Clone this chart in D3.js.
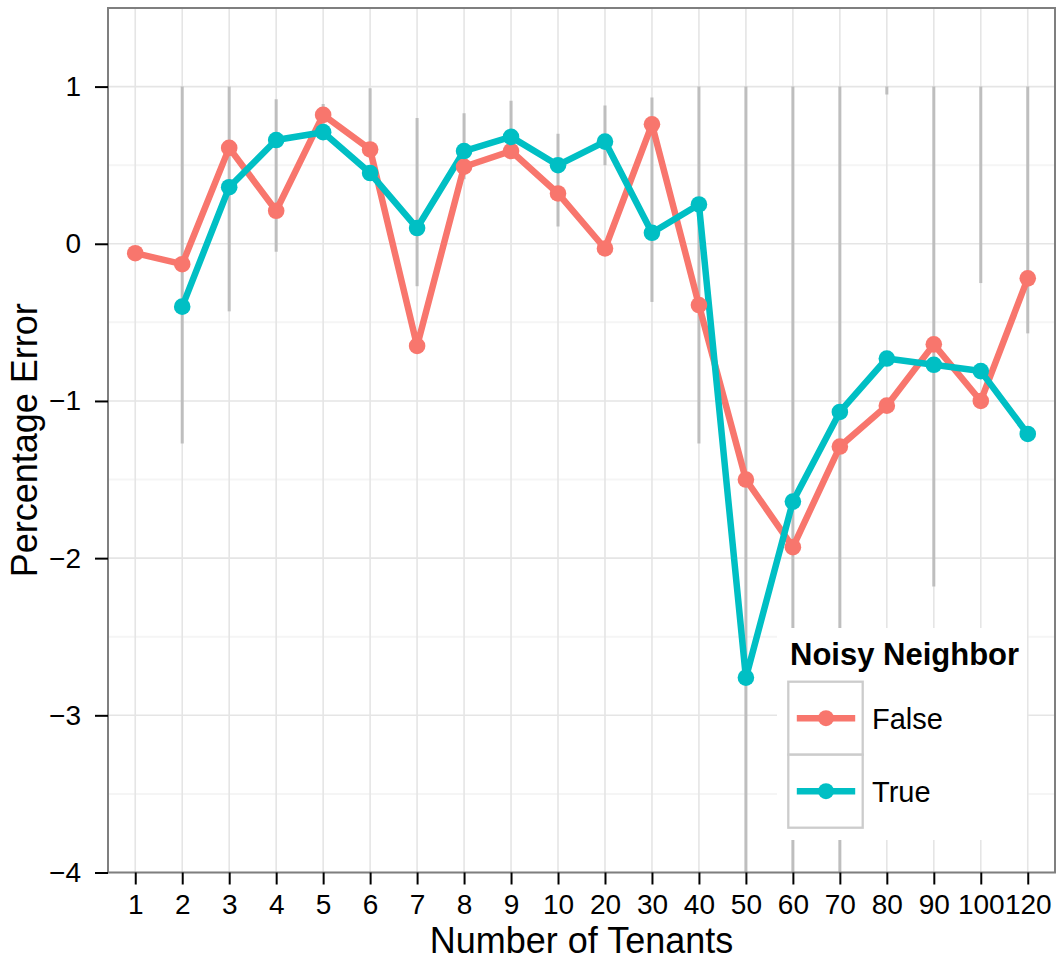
<!DOCTYPE html>
<html>
<head>
<meta charset="utf-8">
<script src="https://cdn.jsdelivr.net/npm/d3@7"></script>
<style>
  html, body { margin: 0; padding: 0; background: #ffffff; }
  svg { display: block; font-family: "Liberation Sans", Arial, Helvetica, sans-serif; }
</style>
</head>
<body>
<svg id="chart" width="1058" height="960"></svg>
<script>
// Tenant counts on the x axis (discrete levels)
const categories = ["1","2","3","4","5","6","7","8","9","10","20","30","40","50","60","70","80","90","100","120"];

// Mean percentage error per tenant count, by noisy-neighbour condition
const falseValues = [-0.06,-0.13,0.61,0.21,0.82,0.60,-0.65,0.49,0.59,0.32,-0.03,0.76,-0.39,-1.50,-1.93,-1.29,-1.03,-0.64,-1.00,-0.22];
const trueValues  = [null,-0.40,0.36,0.66,0.71,0.45,0.10,0.59,0.68,0.50,0.65,0.07,0.25,-2.76,-1.64,-1.07,-0.73,-0.77,-0.81,-1.21];

// Error range (gray vertical bars)
const errLow  = [null,-1.27,-0.43,-0.05,0.74,0.55,-0.27,0.41,0.60,0.11,0.50,-0.37,-1.27,-4.0,-4.0,-4.0,0.95,-2.18,-0.25,-0.57];
const errHigh = [null,1.0,1.0,0.92,0.89,0.99,0.80,0.83,0.91,0.70,0.88,0.93,1.0,1.0,1.0,1.0,1.0,1.0,1.0,1.0];

const yTicks = [-4,-3,-2,-1,0,1];
const yMinorTicks = [-3.5,-2.5,-1.5,-0.5,0.5];
const seriesNames = ["False","True"];
const seriesColors = ["#F8766D","#00BFC4"];
const legendTitle = "Noisy Neighbor";
const xTitle = "Number of Tenants";
const yTitle = "Percentage Error";

const svg = d3.select("#chart");
const panel = { left: 108, right: 1055, top: 8, bottom: 872.5 };

const x = d3.scalePoint()
  .domain(categories)
  .range([panel.left, panel.right])
  .padding(0.58);

const y = d3.scaleLinear()
  .domain([-4, 1.5])
  .range([panel.bottom, panel.top]);

svg.append("defs").append("clipPath").attr("id", "panel-clip")
  .append("rect")
  .attr("x", panel.left).attr("y", panel.top)
  .attr("width", panel.right - panel.left)
  .attr("height", panel.bottom - panel.top);

// Panel background
svg.append("rect")
  .attr("x", panel.left).attr("y", panel.top)
  .attr("width", panel.right - panel.left)
  .attr("height", panel.bottom - panel.top)
  .attr("fill", "#ffffff");

const grid = svg.append("g");
// Minor horizontal grid
grid.selectAll("line.minor").data(yMinorTicks).join("line")
  .attr("class", "minor")
  .attr("x1", panel.left).attr("x2", panel.right)
  .attr("y1", d => y(d)).attr("y2", d => y(d))
  .attr("stroke", "#f5f5f5").attr("stroke-width", 2);
// Major horizontal grid
grid.selectAll("line.hmajor").data(yTicks).join("line")
  .attr("class", "hmajor")
  .attr("x1", panel.left).attr("x2", panel.right)
  .attr("y1", d => y(d)).attr("y2", d => y(d))
  .attr("stroke", "#e5e5e5").attr("stroke-width", 1.6);
// Vertical grid at each category
grid.selectAll("line.vmajor").data(categories).join("line")
  .attr("class", "vmajor")
  .attr("x1", d => x(d)).attr("x2", d => x(d))
  .attr("y1", panel.top).attr("y2", panel.bottom)
  .attr("stroke", "#e5e5e5").attr("stroke-width", 1.6);

const plot = svg.append("g").attr("clip-path", "url(#panel-clip)");

// Error ranges
const errData = categories.map((c, i) => ({ c, lo: errLow[i], hi: errHigh[i] }))
  .filter(d => d.lo !== null && d.hi !== null);
plot.selectAll("line.err").data(errData).join("line")
  .attr("class", "err")
  .attr("x1", d => x(d.c)).attr("x2", d => x(d.c))
  .attr("y1", d => y(d.hi)).attr("y2", d => y(d.lo))
  .attr("stroke", "#bebebe").attr("stroke-width", 3);

const series = [falseValues, trueValues].map((vals, s) => ({
  name: seriesNames[s],
  color: seriesColors[s],
  points: categories.map((c, i) => ({ c, v: vals[i] })).filter(d => d.v !== null)
}));

const line = d3.line()
  .x(d => x(d.c))
  .y(d => y(d.v));

// Lines layer
plot.selectAll("path.series").data(series).join("path")
  .attr("class", "series")
  .attr("d", d => line(d.points))
  .attr("fill", "none")
  .attr("stroke", d => d.color)
  .attr("stroke-width", 6.5)
  .attr("stroke-linejoin", "round");

// Points layer
series.forEach(s => {
  plot.append("g").selectAll("circle").data(s.points).join("circle")
    .attr("cx", d => x(d.c))
    .attr("cy", d => y(d.v))
    .attr("r", 8.3)
    .attr("fill", s.color);
});

// Panel border
svg.append("rect")
  .attr("x", panel.left).attr("y", panel.top)
  .attr("width", panel.right - panel.left)
  .attr("height", panel.bottom - panel.top)
  .attr("fill", "none")
  .attr("stroke", "#7f7f7f").attr("stroke-width", 2);

// Axes
const fmt = d => (d < 0 ? "\u2212" + Math.abs(d) : String(d));

const xAxis = svg.append("g")
  .attr("transform", `translate(0,${panel.bottom})`)
  .call(d3.axisBottom(x).tickSize(12).tickPadding(10));
const yAxis = svg.append("g")
  .attr("transform", `translate(${panel.left},0)`)
  .call(d3.axisLeft(y).tickValues(yTicks).tickFormat(fmt).tickSize(13).tickPadding(14));

[xAxis, yAxis].forEach(a => {
  a.select(".domain").remove();
  a.selectAll(".tick line").attr("stroke", "#000000").attr("stroke-width", 2);
  a.selectAll(".tick text")
    .attr("fill", "#000000")
    .style("font-size", "28px")
    .style("font-family", "'Liberation Sans', Arial, sans-serif");
});

// Axis titles
svg.append("text")
  .attr("x", (panel.left + panel.right) / 2)
  .attr("y", 953)
  .attr("text-anchor", "middle")
  .style("font-size", "36px")
  .attr("fill", "#000000")
  .text(xTitle);

svg.append("text")
  .attr("transform", `translate(37,${(panel.top + panel.bottom) / 2}) rotate(-90)`)
  .attr("text-anchor", "middle")
  .style("font-size", "36px")
  .attr("fill", "#000000")
  .text(yTitle);

// Legend
const legend = svg.append("g");
legend.append("rect")
  .attr("x", 777).attr("y", 628)
  .attr("width", 250).attr("height", 212)
  .attr("fill", "#ffffff");
legend.append("text")
  .attr("x", 790).attr("y", 665)
  .style("font-size", "31px")
  .style("font-weight", "bold")
  .attr("fill", "#000000")
  .text(legendTitle);

const keyTop = 681.7, keyH = 73, keyW = 74.4, keyX = 788.3;
series.forEach((s, i) => {
  const ky = keyTop + i * keyH;
  const cy = ky + keyH / 2;
  legend.append("rect")
    .attr("x", keyX).attr("y", ky)
    .attr("width", keyW).attr("height", keyH)
    .attr("fill", "#ffffff")
    .attr("stroke", "#cccccc").attr("stroke-width", 2.3);
  legend.append("line")
    .attr("x1", keyX + 8.5).attr("x2", keyX + keyW - 7.5)
    .attr("y1", cy).attr("y2", cy)
    .attr("stroke", s.color).attr("stroke-width", 6.5);
  legend.append("circle")
    .attr("cx", keyX + keyW / 2 + 0.5).attr("cy", cy)
    .attr("r", 8)
    .attr("fill", s.color);
  legend.append("text")
    .attr("x", 872).attr("y", cy + 11)
    .style("font-size", "29px")
    .attr("fill", "#000000")
    .text(s.name);
});
</script>
</body>
</html>
